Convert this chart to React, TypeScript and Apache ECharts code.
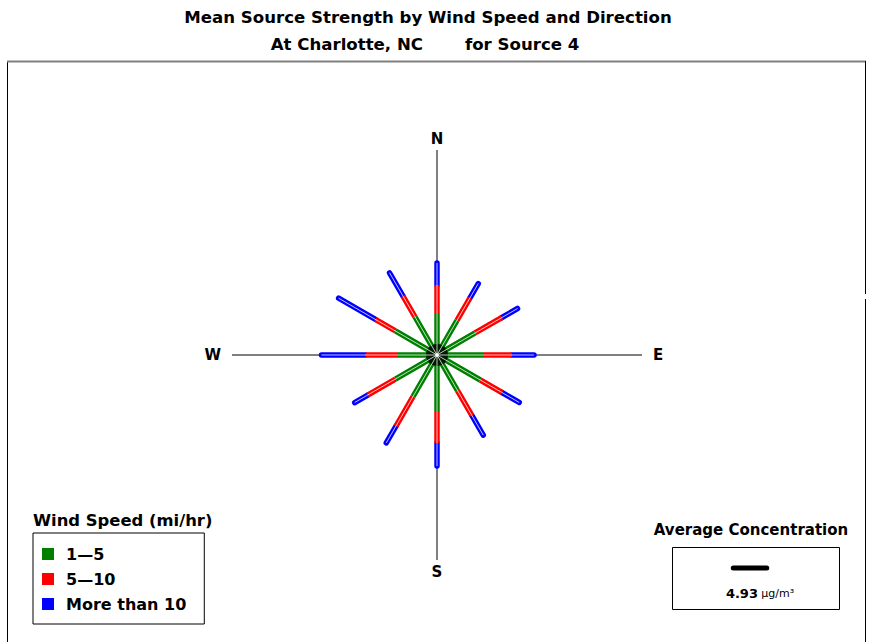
import React, { useEffect, useRef } from "react";
import * as echarts from "echarts";

// Wind directions (degrees clockwise from North)
const directionAngles = [0, 30, 60, 90, 120, 150, 180, 210, 240, 270, 300, 330];
const compassLabels = ["N", "E", "S", "W"];
const compassAngles = [0, 90, 180, 270];

// Mean source strength (ug/m3) contributed by each wind speed class, per direction
const speedClassNames = ["1\u20145", "5\u201410", "More than 10"];
const speed1to5 = [6.18, 5.89, 6.48, 6.77, 7.36, 6.04, 8.24, 7.07, 7.07, 5.89, 7.07, 6.48];
const speed5to10 = [4.12, 3.83, 4.56, 4.27, 3.68, 4.27, 4.71, 5.0, 4.71, 4.64, 3.39, 3.53];
const speedOver10 = [3.24, 2.43, 2.65, 3.24, 2.94, 3.31, 3.39, 2.87, 2.21, 6.48, 6.26, 3.97];
const speedColors = ["#008000", "#ff0000", "#0000ff"];

const averageConcentration = [4.93];

const TITLE1 = "Mean Source Strength by Wind Speed and Direction";
const TITLE2A = "At Charlotte, NC";
const TITLE2B = "for Source 4";

const FONT = "DejaVu Sans";
const POLAR_RADIUS = 205;
const RADIUS_MAX = 30.18;
const CX = 437;
const CY = 355;

function segmentData(starts: number[], ends: number[]) {
  const d: any[] = [];
  directionAngles.forEach((a, i) => {
    d.push([starts[i], a]);
    d.push([ends[i], a]);
    d.push(["-", "-"]);
  });
  return d;
}

export default function App() {
  const ref = useRef<HTMLDivElement>(null);
  useEffect(() => {
    if (!ref.current) return;
    const chart = echarts.init(ref.current, undefined, { renderer: "svg" });
    const zeros = directionAngles.map(() => 0);
    const c1 = speed1to5.map((v) => v);
    const c2 = speed1to5.map((v, i) => v + speed5to10[i]);
    const c3 = c2.map((v, i) => v + speedOver10[i]);
    const classes = [
      { name: speedClassNames[0], s: zeros, e: c1, color: speedColors[0], cap: "butt", z: 4 },
      { name: speedClassNames[1], s: c1, e: c2, color: speedColors[1], cap: "butt", z: 3 },
      { name: speedClassNames[2], s: c2, e: c3, color: speedColors[2], cap: "round", z: 2 },
    ];
    const barPx = (averageConcentration[0] / RADIUS_MAX) * POLAR_RADIUS;
    const barCx = 750;
    const barCy = 568;

    const series: any[] = classes.map((c) => ({
      name: c.name,
      type: "line",
      coordinateSystem: "polar",
      data: segmentData(c.s, c.e),
      showSymbol: false,
      symbol: "none",
      connectNulls: false,
      color: c.color,
      itemStyle: { color: c.color },
      lineStyle: { color: c.color, width: 5.5, cap: c.cap },
      z: c.z,
      silent: true,
    }));
    series.push({
      name: "hub",
      type: "scatter",
      coordinateSystem: "polar",
      data: [[0, 0]],
      symbol: "circle",
      symbolSize: 22,
      itemStyle: { color: "#000" },
      z: 5,
      silent: true,
    });
    series.push({
      name: "highlight",
      type: "line",
      coordinateSystem: "polar",
      data: segmentData(zeros, c3),
      showSymbol: false,
      symbol: "none",
      connectNulls: false,
      lineStyle: { color: "rgba(255,255,255,0.75)", width: 1 },
      z: 6,
      silent: true,
    });
    series.push({
      name: "hubdot",
      type: "scatter",
      coordinateSystem: "polar",
      data: [[0, 0]],
      symbol: "circle",
      symbolSize: 4,
      itemStyle: { color: "#fff" },
      z: 7,
      silent: true,
    });

    chart.setOption({
      animation: false,
      backgroundColor: "#fff",
      textStyle: { fontFamily: FONT },
      polar: { center: [CX, CY], radius: POLAR_RADIUS },
      angleAxis: {
        type: "value",
        min: 0,
        max: 360,
        interval: 90,
        startAngle: 90,
        clockwise: true,
        axisLine: { show: false },
        axisTick: { show: false },
        splitLine: { show: true, lineStyle: { color: "#000", width: 1 } },
        axisLabel: {
          margin: 4,
          color: "#000",
          fontFamily: FONT,
          fontWeight: "bold",
          fontSize: 15,
          formatter: (v: number) => {
            const idx = compassAngles.indexOf(v);
            if (idx < 0) return "";
            return idx % 2 === 1 ? "{h|" + compassLabels[idx] + "}" : "{v|" + compassLabels[idx] + "}";
          },
          rich: {
            h: { fontFamily: FONT, fontWeight: "bold", fontSize: 15, color: "#000", padding: [0, 7, 0, 7] },
            v: { fontFamily: FONT, fontWeight: "bold", fontSize: 15, color: "#000" },
          },
        },
      },
      radiusAxis: {
        type: "value",
        min: 0,
        max: RADIUS_MAX,
        show: false,
      },
      legend: {
        data: speedClassNames,
        orient: "vertical",
        left: 33,
        top: 533,
        padding: [13, 18, 12, 9],
        itemGap: 9,
        itemWidth: 12,
        itemHeight: 12,
        icon: "rect",
        selectedMode: false,
        borderColor: "#000",
        borderWidth: 1,
        textStyle: { color: "#000", fontFamily: FONT, fontSize: 16, fontWeight: "bold", padding: [0, 0, 0, 7] },
      },
      graphic: [
        { type: "line", shape: { x1: 7.5, y1: 61, x2: 7.5, y2: 642 }, style: { stroke: "#000", lineWidth: 1 } },
        { type: "line", shape: { x1: 7, y1: 61.5, x2: 866, y2: 61.5 }, style: { stroke: "#808080", lineWidth: 2 } },
        { type: "line", shape: { x1: 865.5, y1: 61, x2: 865.5, y2: 294 }, style: { stroke: "#000", lineWidth: 1 } },
        { type: "line", shape: { x1: 865.5, y1: 299, x2: 865.5, y2: 642 }, style: { stroke: "#000", lineWidth: 1 } },
        {
          type: "text", x: 428, y: 17,
          style: { text: TITLE1, fill: "#000", font: `bold 16.6px "${FONT}"`, textAlign: "center", textVerticalAlign: "middle" },
        },
        {
          type: "text", x: 423, y: 44,
          style: { text: TITLE2A, fill: "#000", font: `bold 16.6px "${FONT}"`, textAlign: "right", textVerticalAlign: "middle" },
        },
        {
          type: "text", x: 465, y: 44,
          style: { text: TITLE2B, fill: "#000", font: `bold 16.6px "${FONT}"`, textAlign: "left", textVerticalAlign: "middle" },
        },
        {
          type: "text", x: 33, y: 520,
          style: { text: "Wind Speed (mi/hr)", fill: "#000", font: `bold 16.4px "${FONT}"`, textAlign: "left", textVerticalAlign: "middle" },
        },
        {
          type: "text", x: 751, y: 530,
          style: { text: "Average Concentration", fill: "#000", font: `bold 15px "${FONT}"`, textAlign: "center", textVerticalAlign: "middle" },
        },
        {
          type: "rect", shape: { x: 672.5, y: 547.5, width: 167, height: 62 },
          style: { fill: "none", stroke: "#000", lineWidth: 1 },
        },
        {
          type: "line",
          shape: { x1: barCx - barPx / 2, y1: barCy, x2: barCx + barPx / 2, y2: barCy },
          style: { stroke: "#000", lineWidth: 5, lineCap: "round" },
        },
        {
          type: "text", x: 760, y: 593,
          style: {
            text: "{a|" + averageConcentration[0].toFixed(2) + "} {u|\u03bcg/m\u00b3}",
            textAlign: "center",
            textVerticalAlign: "middle",
            rich: {
              a: { fontFamily: FONT, fontWeight: "bold", fontSize: 13, fill: "#000", color: "#000" },
              u: { fontFamily: FONT, fontSize: 11, fill: "#000", color: "#000" },
            },
          },
        },
      ],
      series,
    });
    return () => chart.dispose();
  }, []);
  return (
    <div
      ref={ref}
      style={{ position: "fixed", left: 0, top: 0, width: 872, height: 644, background: "#fff" }}
    />
  );
}
